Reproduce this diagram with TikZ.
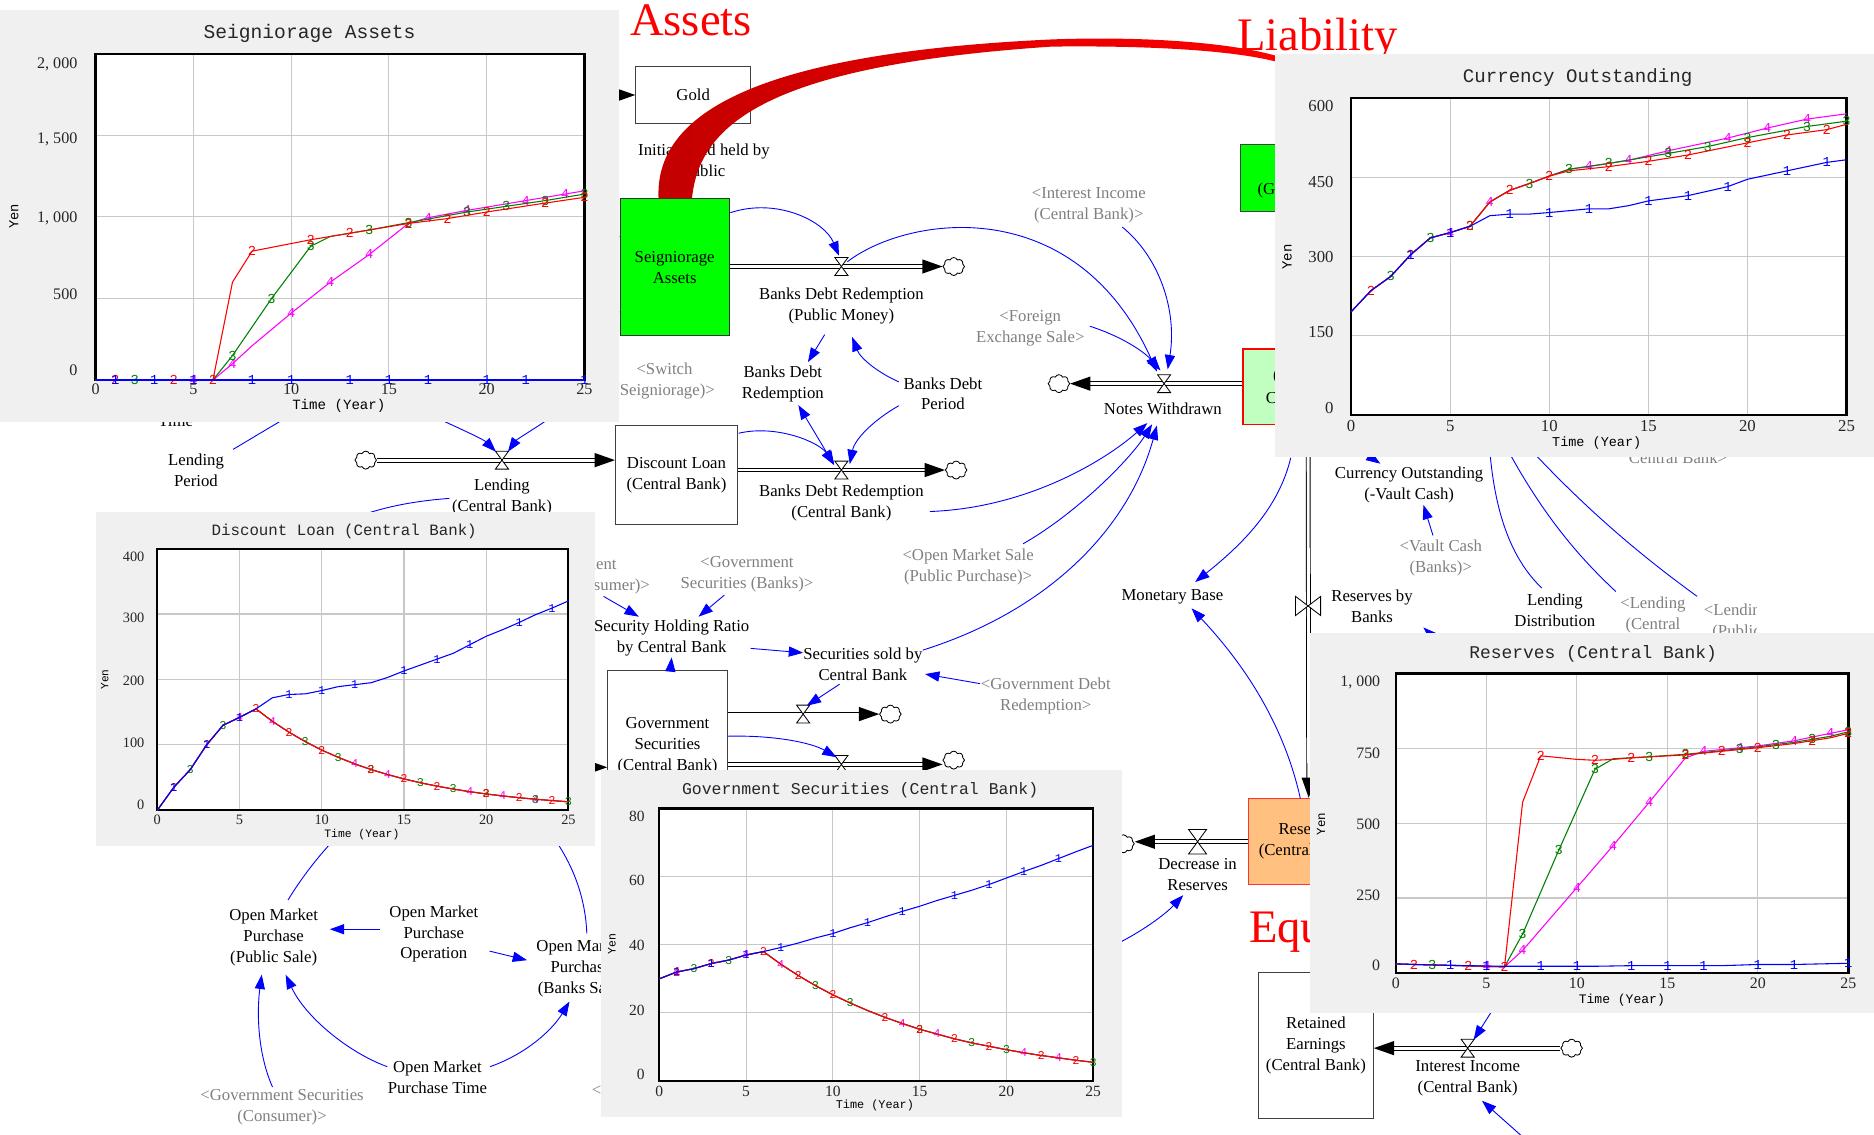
\documentclass[tikz,border=0pt]{standalone}
\usepackage{fontspec}
\setmainfont{Liberation Serif}
\newfontfamily\chartmono{Liberation Mono}
\usetikzlibrary{arrows.meta,shapes.symbols,calc}
\definecolor{panelbg}{RGB}{240,240,240}
\definecolor{gridc}{RGB}{200,200,200}
\definecolor{stockgreen}{RGB}{0,255,0}
\definecolor{lightgreen}{RGB}{192,255,192}
\definecolor{orangebox}{RGB}{255,192,128}
\definecolor{shadowgray}{RGB}{128,128,128}
\definecolor{sblue}{RGB}{0,0,255}
\definecolor{sred}{RGB}{255,0,0}
\definecolor{sgreen}{RGB}{0,128,0}
\definecolor{smag}{RGB}{255,0,255}
\definecolor{arcdark}{RGB}{195,0,0}
\newcommand{\pipeheadR}[1]{\fill[black] #1 -- ++(-17,-6) -- ++(0,12) -- cycle;}
\newcommand{\pipeheadL}[1]{\fill[black] #1 -- ++(17,-6) -- ++(0,12) -- cycle;}
\newcommand{\pipeheadD}[1]{\fill[black] #1 -- ++(-6,-17) -- ++(12,0) -- cycle;}
\newcommand{\chartser}[4]{%
  \draw[#1, line width=0.9pt, line join=round] plot coordinates {#3};
  \foreach \mx/\my in {#4} {\node[mk, text=#1] at (\mx,\my) {#2};}%
}
\tikzset{
  valve/.pic={\draw[fill=white, line width=0.7pt] (-5.5,-7.5) -- (5.5,-7.5) -- (0,0) -- cycle;
              \draw[fill=white, line width=0.7pt] (-5.5,7.5) -- (5.5,7.5) -- (0,0) -- cycle;},
  hvalve/.pic={\draw[fill=white, line width=0.7pt] (-10.5,-8) -- (-10.5,8) -- (0,0) -- cycle;
               \draw[fill=white, line width=0.7pt] (10.5,-8) -- (10.5,8) -- (0,0) -- cycle;},
}
\begin{document}
\begin{tikzpicture}[x=1pt,y=-1pt,
  txt/.style={align=center, inner sep=1pt, font=\fontsize{14}{17.5}\selectfont},
  shd/.style={txt, text=shadowgray},
  stock/.style={draw=black!75, line width=0.9pt, align=center, inner sep=0pt, font=\fontsize{14}{17.5}\selectfont},
  pipe/.style={draw=black, line width=0.8pt, double=white, double distance=2.4pt},
  conn/.style={draw=sblue, line width=0.75pt, -{Triangle[length=12pt,width=8.5pt]}},
  connboth/.style={draw=sblue, line width=0.75pt, {Triangle[length=12pt,width=8.5pt]}-{Triangle[length=12pt,width=8.5pt]}},
  link/.style={draw=sblue, line width=0.75pt},
  puff/.style={cloud, cloud puffs=8, cloud puff arc=135, aspect=1.2, draw=black, fill=white, line width=0.7pt, minimum width=18pt, minimum height=15pt, inner sep=0pt},
  redtitle/.style={text=red, font=\fontsize{39}{40}\selectfont, inner sep=0pt, anchor=base west},
  mk/.style={font=\chartmono\fontsize{11.5}{11.5}\selectfont, inner sep=0pt},
]
\useasboundingbox (0,0) rectangle (1568,949);
\fill[white] (0,0) rectangle (1568,949);

% ---------------- stocks
\node[stock, minimum width=96pt, minimum height=48pt] (gold) at (580,79.5) {Gold};
\node[stock, fill=stockgreen, draw=black!80, minimum width=91pt, minimum height=115pt] (seig) at (564.5,223.5) {Seigniorage\\Assets};
\node[stock, minimum width=102pt, minimum height=83pt] (dl) at (566,397.5) {Discount Loan\\(Central Bank)};
\node[stock, minimum width=100pt, minimum height=126pt] (gs) at (558.5,624) {Government\\Securities\\(Central Bank)};
\node[stock, fill=stockgreen, minimum width=72pt, minimum height=56pt] (gcb) at (1074,149) {};
\node[txt, anchor=west] (gcbtxt) at (1051,159) {(G};
\node[stock, fill=lightgreen, draw=red, minimum width=70pt, minimum height=63pt] (cotb) at (1075,323.5) {};
\node[txt, anchor=west] (cot1) at (1064,315) {(};
\node[txt, anchor=west] (cot2) at (1058,333) {C};
\node[stock, fill=orangebox, draw=red!80, minimum width=100pt, minimum height=72pt] (res) at (1095,704) {Reserves\\(Central Bank)};
\node[stock, minimum width=96pt, minimum height=122pt] (re) at (1101,875) {Retained\\Earnings\\(Central Bank)};

% ---------------- valves / clouds
\coordinate (v1) at (704,223);
\coordinate (v2) at (704,393.3);
\coordinate (vL) at (420,385);
\coordinate (vN) at (974,321);
\coordinate (va) at (672,597.5);
\coordinate (vb) at (704,639.6);
\coordinate (vD) at (1002,704.3);
\coordinate (vR) at (1094.5,507);
\coordinate (vI) at (1228,877);
\node[puff] (c1) at (798,223) {};
\node[puff] (c2) at (800,393.3) {};
\node[puff] (cL) at (306,385) {};
\node[puff] (cN) at (886,321) {};
\node[puff] (ca) at (745,597.5) {};
\node[puff] (cb) at (798,636) {};
\node[puff] (cD) at (940,706) {};
\node[puff] (cI) at (1315,877) {};

% ---------------- pipes
\coordinate (p1s) at (seig.east |- v1);
\draw[pipe] (p1s) -- ($(c1.west)+(-16,0)$); \pipeheadR{(c1.west)}
\coordinate (p2s) at (dl.east |- v2);
\draw[pipe] (p2s) -- ($(c2.west)+(-16,0)$); \pipeheadR{(c2.west)}
\coordinate (dlin) at (dl.west |- vL);
\draw[pipe] (cL.east) -- ($(dlin)+(-16,0)$); \pipeheadR{(dlin)}
\coordinate (pns) at (cotb.west |- vN);
\draw[pipe] (pns) -- ($(cN.east)+(16,0)$); \pipeheadL{(cN.east)}
\coordinate (pas) at (gs.east |- va);
\draw[pipe] (pas) -- ($(ca.west)+(-16,0)$); \pipeheadR{(ca.west)}
\coordinate (pbs) at (gs.east |- vb);
\coordinate (pbe) at (cb.west |- vb);
\draw[pipe] (pbs) -- ($(pbe)+(-16,0)$); \pipeheadR{(pbe)}
\coordinate (pds) at (res.west |- vD);
\coordinate (pde) at (cD.east |- vD);
\draw[pipe] (pds) -- ($(pde)+(16,0)$); \pipeheadL{(pde)}
\coordinate (pie) at (re.east |- vI);
\draw[pipe] (cI.west) -- ($(pie)+(16,0)$); \pipeheadL{(pie)}
\coordinate (rtop) at (1094.5,360);
\draw[pipe] (rtop) -- ($(res.north)+(0,-16)$); \pipeheadD{(res.north)}
\coordinate (gsrc) at (470,79.5);
\draw[pipe] (gsrc) -- ($(gold.west)+(-16,0)$); \pipeheadR{(gold.west)}
\coordinate (s1src) at (470,198); \coordinate (s1e) at (seig.west |- s1src);
\draw[pipe] (s1src) -- ($(s1e)+(-16,0)$); \pipeheadR{(s1e)}
\coordinate (s2src) at (470,261); \coordinate (s2e) at (seig.west |- s2src);
\draw[pipe] (s2src) -- ($(s2e)+(-16,0)$); \pipeheadR{(s2e)}
\coordinate (gssrc) at (460,642); \coordinate (gse) at (gs.west |- gssrc);
\draw[pipe] (gssrc) -- ($(gse)+(-16,0)$); \pipeheadR{(gse)}

\pic at (v1) {valve};
\pic at (v2) {valve};
\pic at (vL) {valve};
\pic at (vN) {valve};
\pic at (va) {valve};
\pic at (vb) {valve};
\pic[scale=1.36] at (vD) {valve};
\pic at (vR) {hvalve};
\pic at (vI) {valve};

% ---------------- variables
\node[txt] (ig) at (589,134) {Initial Gold held by\\Public};
\node[txt] (bdrpL) at (704,256) {Banks Debt Redemption\\(Public Money)};
\node[txt] (bdrcL) at (704,421) {Banks Debt Redemption\\(Central Bank)};
\node[txt] (bdr) at (655,321) {Banks Debt\\Redemption};
\node[txt] (bdp) at (789,329.5) {Banks Debt\\Period};
\node[shd] (iic) at (911,172) {<Interest Income\\(Central Bank)>};
\node[shd] (fes) at (862,275) {<Foreign\\Exchange Sale>};
\node[shd] (sws) at (556,319) {<Switch\\(Seigniorage)>};
\node[txt] (nwL) at (973,342) {Notes Withdrawn};
\node[txt] (lp) at (164,393.5) {Lending\\Period};
\node[txt] (tm) at (147,352) {Time};
\node[txt] (lcb) at (420,416) {Lending\\(Central Bank)};
\node[shd] (omsp) at (810,474.5) {<Open Market Sale\\(Public Purchase)>};
\node[shd] (gsb) at (625,480.5) {<Government\\Securities (Banks)>};
\node[shd] (gsc) at (477,482) {<Government\\Securities (Consumer)>};
\node[txt] (shr) at (562,534) {Security Holding Ratio\\by Central Bank};
\node[txt] (ssc) at (722,555.5) {Securities sold by\\Central Bank};
\node[shd] (gdr) at (875,582.5) {<Government Debt\\Redemption>};
\node[txt] (mb) at (981,499) {Monetary Base};
\node[txt] (cov) at (1179,405.5) {Currency Outstanding\\(-Vault Cash)};
\node[shd] (vcb) at (1205.5,466.5) {<Vault Cash\\(Banks)>};
\node[txt] (rbb) at (1148,507) {Reserves by\\Banks};
\node[txt] (ld) at (1301,510.5) {Lending\\Distribution};
\node[shd] (lccb) at (1383,514.25) {<Lending\\(Central};
\begin{scope}
  \clip (1395,480) rectangle (1470,560);
  \node[shd] (lpub) at (1453,520.25) {<Lending\\(Public};
\end{scope}
\node[shd] (ccb) at (1404,383) {Central Bank>};
\node[txt] (dr) at (1002,732) {Decrease in\\Reserves};
\node[txt] (iiL) at (1228,902) {Interest Income\\(Central Bank)};
\node[txt] (omppub) at (229,784.5) {Open Market\\Purchase\\(Public Sale)};
\node[txt] (ompo) at (363,781.5) {Open Market\\Purchase\\Operation};
\node[txt] (ompb) at (486,810) {Open Market\\Purchase\\(Banks Sale)};
\node[txt] (ompt) at (366,901.5) {Open Market\\Purchase Time};
\node[shd] (gscons) at (236,926.5) {<Government Securities\\(Consumer)>};
\node[shd, anchor=west, inner sep=0pt] (ltr) at (495,913) {<};

% ---------------- connectors
\draw[conn] ($(seig)+(46.5,-45.5)$) .. controls (650,165) and (690,185) .. ($(v1)+(-2,-9)$);
\draw[conn] ($(v1)+(5,-4)$) .. controls (760,180) and (900,160) .. ($(vN)+(-6,-10)$);
\draw[conn] ($(iic)+(28,18)$) .. controls (970,215) and (985,260) .. ($(vN)+(3,-12)$);
\draw[conn] ($(fes)+(50,-2)$) .. controls (940,282) and (958,295) .. ($(vN)+(-3,-11)$);
\draw[conn] ($(bdrpL)+(-14,24)$) -- ($(bdr)+(21,-18)$);
\draw[conn] ($(bdp)+(-37,-10)$) .. controls (735,312) and (720,300) .. ($(bdrpL)+(9,26)$);
\draw[conn] ($(bdp)+(-37,10)$) .. controls (730,352) and (715,368) .. ($(v2)+(7,-5)$);
\draw[connboth] ($(bdr)+(13,18)$) -- ($(v2)+(-6,-4)$);
\draw[conn] ($(dl)+(52,-35)$) .. controls (650,355) and (685,370) .. ($(v2)+(-6,-5)$);
\draw[conn] ($(bdrcL)+(74,7)$) .. controls (860,425) and (925,385) .. ($(nwL)+(-13,12)$);
\draw[conn] ($(omsp)+(46,-19.5)$) .. controls (900,430) and (945,385) .. ($(nwL)+(-9,13)$);
\draw[conn] ($(ssc)+(50,-11.5)$) .. controls (880,510) and (945,440) .. ($(nwL)+(-5,14)$);
\draw[conn] ($(cotb)+(5,59.5)$) .. controls (1070,425) and (1040,455) .. ($(mb)+(19,-12)$);
\draw[conn] ($(res)+(-7,-36)$) .. controls (1075,610) and (1045,560) .. ($(mb)+(16,10)$);
\draw[conn] ($(shr)+(66,8.5)$) -- ($(ssc)+(-50,-9.3)$);
\draw[conn] ($(gsb)+(-19,17.5)$) -- ($(shr)+(22.5,-18)$);
\draw[conn] ($(gsc)+(28,17)$) -- ($(shr)+(-27.5,-18)$);
\draw[conn] ($(gs.north)+(2.5,0)$) -- ($(shr)+(0,16)$);
\draw[conn] ($(ssc)+(-19.5,17)$) -- ($(va)+(3,-7)$);
\draw[conn] ($(gs)+(50.5,-8)$) .. controls (650,615) and (680,622) .. ($(vb)+(-4,-6)$);
\draw[conn] ($(gdr)+(-55,-10.5)$) -- ($(ssc)+(52,8.5)$);
\draw[conn] ($(ompo)+(-45,-4)$) -- ($(omppub)+(47,-7)$);
\draw[conn] ($(ompo)+(46.6,14.3)$) -- ($(ompb)+(-45,-6.6)$);
\draw[conn] ($(ompt)+(-42,-9)$) .. controls (290,880) and (255,850) .. ($(omppub)+(10,31)$);
\draw[conn] ($(ompt)+(44,-9)$) .. controls (440,882) and (462,862) .. ($(ompb)+(-9.5,28)$);
\draw[conn] ($(gscons)+(-8,-17)$) .. controls (215,880) and (215,845) .. ($(omppub)+(-10,31)$);
\coordinate (dlp1) at (280,702);
\draw[link] ($(omppub)+(12,-31.5)$) .. controls (252,735) and (265,718) .. (dlp1);
\coordinate (dlp2) at (464,702);
\draw[link] ($(ompb)+(5,-29)$) .. controls (490,755) and (482,728) .. (dlp2);
\coordinate (lpt) at (242,348);
\draw[link] ($(lp)+(31,-17.5)$) -- (lpt);
\coordinate (la) at (366,350);
\draw[conn] (la) .. controls (388,360) and (405,368) .. ($(vL)+(-5,-7)$);
\coordinate (lb) at (460,350);
\draw[conn] (lb) .. controls (445,360) and (432,368) .. ($(vL)+(5,-7)$);
\coordinate (lce) at (300,432);
\draw[link] ($(lcb)+(-44,1)$) .. controls (350,419) and (325,423) .. (lce);
\coordinate (cu1) at (1246,370);
\draw[link] (cu1) .. controls (1250,430) and (1265,468) .. ($(ld)+(-11,-18.5)$);
\coordinate (cu2) at (1258,370);
\draw[link] (cu2) .. controls (1290,430) and (1320,465) .. ($(lccb)+(-31,-19.25)$);
\coordinate (cu3) at (1275,370);
\draw[link] (cu3) .. controls (1330,430) and (1380,470) .. ($(lpub)+(-33,-21.25)$);
\draw[conn] ($(vcb)+(-6.5,-18.5)$) -- ($(cov)+(12,17)$);
\coordinate (cu4) at (1125,368);
\draw[conn] (cu4) -- ($(cov)+(-24,-17.5)$);
\coordinate (rb1) at (1215,548);
\draw[conn] (rb1) -- ($(rbb)+(43,18)$);
\coordinate (ii1) at (1252,840);
\draw[conn] (ii1) -- ($(vI)+(5,-7)$);
\coordinate (ii2) at (1276,953);
\draw[conn] (ii2) -- ($(iiL)+(12,19)$);
\coordinate (dr1) at (930,792);
\draw[conn] (dr1) .. controls (955,780) and (975,765) .. ($(dr)+(-12,17)$);

% ---------------- red arc and titles
\shade[left color=arcdark, right color=red]
  (551,166) .. controls (548,100) and (620,45) .. (880,33)
  .. controls (960,30) and (1040,36) .. (1078,50)
  -- (1076,54)
  .. controls (1040,42) and (960,38) .. (880,39)
  .. controls (640,55) and (585,105) .. (579,166) -- cycle;
\node[redtitle] (tA) at (527,30) {Assets};
\node[redtitle] (tL) at (1035,42) {Liability};
\node[redtitle] (tE) at (1045,789) {Equity};

% ================= CHART 1: Seigniorage Assets
\fill[panelbg] (0,8) rectangle (518,353);
\node[font=\chartmono\fontsize{16.4}{18}\selectfont, inner sep=0pt, text=black!85] (ch1t) at (259,28) {Seigniorage Assets};
\begin{scope}[shift={(80,318)}, x=16.36pt, y=0.1365pt]
  \fill[white] (0,0) rectangle (25,2000);
  \foreach \gx in {5,10,15,20} {\draw[gridc, line width=0.9pt] (\gx,0) -- (\gx,2000);}
  \foreach \gy in {500,1000,1500} {\draw[gridc, line width=0.9pt] (0,\gy) -- (25,\gy);}
  \draw[black, line width=2pt] (0,0) rectangle (25,2000);
  \chartser{smag}{4}{(0,0) (6,0) (7,100) (8,210) (10,410) (12,600) (14,770) (16,960) (17,995) (19,1040) (22,1100) (24,1140) (25,1160)}{5/0,7/100,10/410,12/600,14/770,17/995,19/1040,22/1100,24/1140}
  \chartser{sgreen}{3}{(0,0) (6,0) (7,150) (9,500) (11,820) (12,880) (14,920) (16,965) (19,1030) (21,1065) (23,1100) (25,1140)}{2/0,7/150,9/500,11/820,14/920,16/965,19/1030,21/1065,23/1100,25/1140}
  \chartser{sred}{2}{(0,0) (6,0) (7,600) (8,790) (11,860) (12,880) (16,960) (18,990) (20,1030) (23,1085) (25,1120)}{1/0,4/0,6/0,8/790,11/860,13/900,16/960,18/990,20/1030,23/1085,25/1120}
  \draw[sblue, line width=1.8pt] (0,0) -- (25,0);
  \chartser{sblue}{1}{(0,0) (25,0)}{1/0,3/0,5/0,8/0,10/0,13/0,15/0,17/0,20/0,22/0,25/0}
\end{scope}
\begin{scope}[every node/.style={font=\fontsize{13.5}{14}\selectfont, inner sep=0pt, text=black!85}]
  \node[anchor=east] at (65,53.6) {2, 000};
  \node[anchor=east] at (65,117) {1, 500};
  \node[anchor=east] at (65,183) {1, 000};
  \node[anchor=east] at (65,246) {500};
  \node[anchor=east] at (65,310) {0};
  \foreach \xp/\xl in {80/0,161.8/5,243.6/10,325.4/15,407.2/20,489/25} {\node at (\xp,326) {\xl};}
\end{scope}
\node[font=\chartmono\fontsize{11.8}{12}\selectfont, inner sep=0pt] (ch1x) at (283.5,340) {Time (Year)};
\node[rotate=90, font=\chartmono\fontsize{11.5}{12}\selectfont, inner sep=0pt] (ch1y) at (11.6,181) {Yen};

% ================= CHART 2: Currency Outstanding
\fill[panelbg] (1067,45) rectangle (1568,382);
\node[font=\chartmono\fontsize{16}{18}\selectfont, inner sep=0pt, text=black!85] (ch2t) at (1320,65) {Currency Outstanding};
\begin{scope}[shift={(1130.5,347)}, x=16.58pt, y=0.4417pt]
  \fill[white] (0,0) rectangle (25,600);
  \foreach \gx in {5,10,15,20} {\draw[gridc, line width=0.9pt] (\gx,0) -- (\gx,600);}
  \foreach \gy in {150,300,450} {\draw[gridc, line width=0.9pt] (0,\gy) -- (25,\gy);}
  \draw[black, line width=2pt] (0,0) rectangle (25,600);
  \chartser{smag}{4}{(0,195) (1,235) (2,262) (3,303) (4,335) (5,345) (6,357) (7,403) (8,425) (9,438) (10,452) (11,465) (13,476) (14,482) (16,500) (19,524) (21,543) (23,560) (25,570)}{5/345,7/403,12/471,14/482,16/500,19/524,21/543,23/560}
  \chartser{sgreen}{3}{(0,195) (1,235) (2,262) (3,303) (4,335) (5,345) (6,357) (7,403) (8,425) (9,438) (10,452) (11,465) (13,476) (16,495) (18,508) (20,525) (23,546) (25,556)}{2/262,4/335,6/357,9/438,11/465,13/476,16/495,18/508,20/525,23/546,25/556}
  \chartser{sred}{2}{(0,195) (1,235) (2,262) (3,303) (4,335) (5,345) (6,357) (7,403) (8,425) (9,438) (10,452) (11,462) (13,470) (15,480) (17,492) (20,515) (22,530) (24,540) (25,550)}{1/235,3/303,6/357,8/425,10/452,13/470,15/480,17/492,20/515,22/530,24/540}
  \chartser{sblue}{1}{(0,195) (1,235) (2,262) (3,303) (4,335) (5,345) (6,357) (7,377) (8,380) (9,380) (10,383) (12,390) (13,390) (14,396) (15,405) (17,415) (19,432) (20,446) (22,462) (24,478) (25,483)}{3/303,5/345,8/380,10/383,12/390,15/405,17/415,19/432,22/462,24/478}
\end{scope}
\begin{scope}[every node/.style={font=\fontsize{14}{15}\selectfont, inner sep=0pt, text=black!85}]
  \node[anchor=east] at (1116,89) {600};
  \node[anchor=east] at (1116,152) {450};
  \node[anchor=east] at (1116,214.8) {300};
  \node[anchor=east] at (1116,277.6) {150};
  \node[anchor=east] at (1116,341) {0};
  \foreach \xp/\xl in {1130.5/0,1213.4/5,1296.3/10,1379.2/15,1462.1/20,1545/25} {\node at (\xp,356.5) {\xl};}
\end{scope}
\node[font=\chartmono\fontsize{11.3}{12}\selectfont, inner sep=0pt] (ch2x) at (1336,370.4) {Time (Year)};
\node[rotate=90, font=\chartmono\fontsize{11.7}{12}\selectfont, inner sep=0pt] (ch2y) at (1077,215) {Yen};

% ================= CHART 3: Discount Loan
\fill[panelbg] (80,428.5) rectangle (498,708);
\node[font=\chartmono\fontsize{13.2}{15}\selectfont, inner sep=0pt, text=black!85] (ch3t) at (288,444.4) {Discount Loan (Central Bank)};
\begin{scope}[shift={(131.6,678)}, x=13.76pt, y=0.5475pt]
  \fill[white] (0,0) rectangle (25,400);
  \foreach \gx in {5,10,15,20} {\draw[gridc, line width=0.9pt] (\gx,0) -- (\gx,400);}
  \foreach \gy in {100,200,300} {\draw[gridc, line width=0.9pt] (0,\gy) -- (25,\gy);}
  \draw[black, line width=1.8pt] (0,0) rectangle (25,400);
  \tikzset{mk/.style={font=\chartmono\fontsize{10}{10}\selectfont, inner sep=0pt}}
  \chartser{smag}{4}{(0,0) (1,35) (2,62) (3,100) (4,130) (5,142) (6,155) (7,136) (8,119.5) (9,105) (10,92) (11,81) (12,71) (13,62.3) (14,54.7) (15,48) (16,42.1) (17,37) (18,32.5) (19,28.5) (20,25) (21,22) (22,19.3) (23,16.9) (24,14.9) (25,13)}{5/142,7/136,12/71,14/54.7,19/28.5,21/22,23/16.9}
  \chartser{sgreen}{3}{(0,0) (1,35) (2,62) (3,100) (4,130) (5,142) (6,155) (7,136) (8,119.5) (9,105) (10,92) (11,81) (12,71) (13,62.3) (14,54.7) (15,48) (16,42.1) (17,37) (18,32.5) (19,28.5) (20,25) (21,22) (22,19.3) (23,16.9) (24,14.9) (25,13)}{2/62,4/130,9/105,11/81,13/62.3,16/42.1,18/32.5,20/25,23/16.9,25/13}
  \chartser{sred}{2}{(0,0) (1,35) (2,62) (3,100) (4,130) (5,142) (6,155) (7,136) (8,119.5) (9,105) (10,92) (11,81) (12,71) (13,62.3) (14,54.7) (15,48) (16,42.1) (17,37) (18,32.5) (19,28.5) (20,25) (21,22) (22,19.3) (23,16.9) (24,14.9) (25,13)}{1/35,3/100,6/155,8/119.5,10/92,13/62.3,15/48,17/37,20/25,22/19.3,24/14.9}
  \chartser{sblue}{1}{(0,0) (1,35) (2,62) (3,100) (4,130) (5,142) (6,155) (7,172) (8,177) (9,178) (10,183) (11,189) (12,192) (13,195) (14,203) (15,213) (16,222) (17,231) (18,240) (19,253) (20,266) (21,276) (22,287) (23,299) (24,309) (25,320)}{1/35,3/100,5/142,8/177,10/183,12/192,15/213,17/231,19/253,22/287,24/309}
\end{scope}
\begin{scope}[every node/.style={font=\fontsize{12}{13}\selectfont, inner sep=0pt, text=black!85}]
  \node[anchor=east] at (121,465.8) {400};
  \node[anchor=east] at (121,516.9) {300};
  \node[anchor=east] at (121,569.6) {200};
  \node[anchor=east] at (121,621.5) {100};
  \node[anchor=east] at (121,673) {0};
  \foreach \xp/\xl in {131.6/0,200.4/5,269.2/10,338/15,406.8/20,475.6/25} {\node at (\xp,686) {\xl};}
\end{scope}
\node[font=\chartmono\fontsize{9.5}{10}\selectfont, inner sep=0pt] (ch3x) at (302.8,698) {Time (Year)};
\node[rotate=90, font=\chartmono\fontsize{9.3}{10}\selectfont, inner sep=0pt] (ch3y) at (87.7,568.5) {Yen};

% ================= CHART 4: Government Securities
\fill[panelbg] (503,644) rectangle (939,935);
\node[font=\chartmono\fontsize{13.8}{15}\selectfont, inner sep=0pt, text=black!85] (ch4t) at (719.7,661) {Government Securities (Central Bank)};
\begin{scope}[shift={(551.6,904.5)}, x=14.524pt, y=2.85pt]
  \fill[white] (0,0) rectangle (25,80);
  \foreach \gx in {5,10,15,20} {\draw[gridc, line width=0.9pt] (\gx,0) -- (\gx,80);}
  \foreach \gy in {20,40,60} {\draw[gridc, line width=0.9pt] (0,\gy) -- (25,\gy);}
  \draw[black, line width=1.8pt] (0,0) rectangle (25,80);
  \tikzset{mk/.style={font=\chartmono\fontsize{10}{10}\selectfont, inner sep=0pt}}
  \chartser{smag}{4}{(0,30) (1,32) (2,33) (3,34.5) (4,35.5) (5,37) (6,38) (7,34.3) (8,31) (9,28) (10,25.3) (11,22.9) (12,20.7) (13,18.7) (14,16.9) (15,15.2) (16,13.8) (17,12.4) (18,11.2) (19,10.2) (20,9.2) (21,8.3) (22,7.5) (23,6.8) (24,6.1) (25,5.5)}{1/32,5/37,7/34.3,14/16.9,16/13.8,21/8.3,23/6.8}
  \chartser{sgreen}{3}{(0,30) (1,32) (2,33) (3,34.5) (4,35.5) (5,37) (6,38) (7,34.3) (8,31) (9,28) (10,25.3) (11,22.9) (12,20.7) (13,18.7) (14,16.9) (15,15.2) (16,13.8) (17,12.4) (18,11.2) (19,10.2) (20,9.2) (21,8.3) (22,7.5) (23,6.8) (24,6.1) (25,5.5)}{2/33,4/35.5,9/28,11/22.9,15/15.2,18/11.2,20/9.2,25/5.5}
  \chartser{sred}{2}{(0,30) (1,32) (2,33) (3,34.5) (4,35.5) (5,37) (6,38) (7,34.3) (8,31) (9,28) (10,25.3) (11,22.9) (12,20.7) (13,18.7) (14,16.9) (15,15.2) (16,13.8) (17,12.4) (18,11.2) (19,10.2) (20,9.2) (21,8.3) (22,7.5) (23,6.8) (24,6.1) (25,5.5)}{1/32,3/34.5,6/38,8/31,10/25.3,13/18.7,15/15.2,17/12.4,19/10.2,22/7.5,24/6.1}
  \chartser{sblue}{1}{(0,30) (1,32) (2,33) (3,34.5) (4,35.5) (5,37) (6,38) (7,39.2) (8,40.5) (9,42) (10,43.3) (11,45) (12,46.5) (13,48.2) (14,49.8) (15,51.3) (16,53) (17,54.5) (18,56) (19,57.7) (20,59.6) (21,61.5) (22,63.3) (23,65.3) (24,67.3) (25,69.2)}{1/32,3/34.5,5/37,7/39.2,10/43.3,12/46.5,14/49.8,17/54.5,19/57.7,21/61.5,23/65.3}
\end{scope}
\begin{scope}[every node/.style={font=\fontsize{13}{14}\selectfont, inner sep=0pt, text=black!85}]
  \node[anchor=east] at (539.6,683) {80};
  \node[anchor=east] at (539.6,736.4) {60};
  \node[anchor=east] at (539.6,791) {40};
  \node[anchor=east] at (539.6,845) {20};
  \node[anchor=east] at (539.6,898.7) {0};
  \foreach \xp/\xl in {551.6/0,624.2/5,696.8/10,769.5/15,842.1/20,914.7/25} {\node at (\xp,913) {\xl};}
\end{scope}
\node[font=\chartmono\fontsize{9.9}{10}\selectfont, inner sep=0pt] (ch4x) at (732,924.7) {Time (Year)};
\node[rotate=90, font=\chartmono\fontsize{9.6}{10}\selectfont, inner sep=0pt] (ch4y) at (512,790) {Yen};

% ================= CHART 5: Reserves
\fill[panelbg] (1096,530) rectangle (1568,848);
\node[font=\chartmono\fontsize{15}{17}\selectfont, inner sep=0pt, text=black!85] (ch5t) at (1333,547.5) {Reserves (Central Bank)};
\begin{scope}[shift={(1168,814)}, x=15.14pt, y=0.2505pt]
  \fill[white] (0,0) rectangle (25,1000);
  \foreach \gx in {5,10,15,20} {\draw[gridc, line width=0.9pt] (\gx,0) -- (\gx,1000);}
  \foreach \gy in {250,500,750} {\draw[gridc, line width=0.9pt] (0,\gy) -- (25,\gy);}
  \draw[black, line width=2pt] (0,0) rectangle (25,1000);
  \chartser{smag}{4}{(0,30) (1,28) (3,25) (6,20) (7,75) (10,285) (12,425) (14,570) (16,718) (17,740) (20,758) (22,775) (24,800) (25,812)}{5/23,7/75,10/285,12/425,14/570,17/740,19/752,22/775,24/800}
  \chartser{sgreen}{3}{(0,30) (1,28) (3,25) (6,20) (7,130) (9,410) (11,680) (12,715) (14,722) (16,730) (18,742) (20,755) (22,770) (24,790) (25,805)}{2/27,7/130,9/410,11/680,14/722,16/730,19/748,21/762,23/780,25/805}
  \chartser{sred}{2}{(0,30) (1,28) (3,25) (6,20) (7,570) (8,725) (10,713) (11,710) (12,713) (13,718) (16,728) (18,740) (20,752) (22,766) (24,785) (25,800)}{1/28,4/24,6/20,8/725,11/710,13/718,16/728,18/740,20/752,23/775,25/800}
  \chartser{sblue}{1}{(0,30) (1,28) (3,25) (6,22) (8,22) (11,22) (13,24) (18,24) (20,28) (22,28) (25,32)}{3/25,5/23,8/22,10/22,13/24,15/24,17/24,20/28,22/28,25/32}
\end{scope}
\begin{scope}[every node/.style={font=\fontsize{13.3}{14}\selectfont, inner sep=0pt, text=black!85}]
  \node[anchor=east] at (1155,571) {1, 000};
  \node[anchor=east] at (1155,630) {750};
  \node[anchor=east] at (1155,690) {500};
  \node[anchor=east] at (1155,749) {250};
  \node[anchor=east] at (1155,807.6) {0};
  \foreach \xp/\xl in {1168/0,1243.7/5,1319.4/10,1395.1/15,1470.8/20,1546.5/25} {\node at (\xp,822.7) {\xl};}
\end{scope}
\node[font=\chartmono\fontsize{10.9}{11}\selectfont, inner sep=0pt] (ch5x) at (1357,837) {Time (Year)};
\node[rotate=90, font=\chartmono\fontsize{10.4}{11}\selectfont, inner sep=0pt] (ch5y) at (1105.4,689.6) {Yen};
\end{tikzpicture}
\end{document}
